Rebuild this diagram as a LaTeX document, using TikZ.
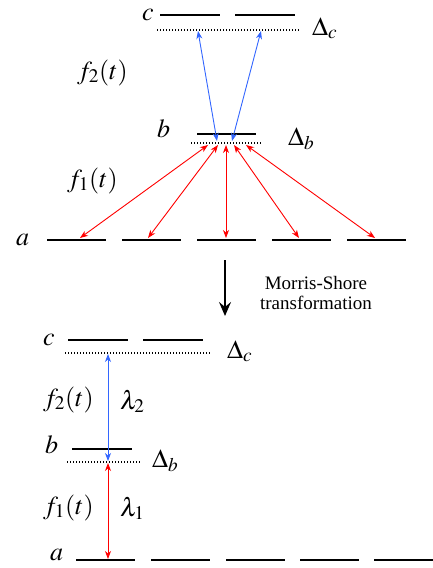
\documentclass[tikz,border=0pt]{standalone}
\usepackage{mathptmx}
\usepackage[no-math]{fontspec}
\setmainfont{Liberation Serif}
\usetikzlibrary{arrows.meta}
\definecolor{bl}{RGB}{51,102,255}
\begin{document}
\begin{tikzpicture}[x=1pt,y=-1pt,
  lev/.style={line width=2pt},
  det/.style={dash pattern=on 1.4pt off 1.6pt,line width=1.6pt},
  lbl/.style={inner sep=0pt,anchor=base west,font=\fontsize{26}{30}\selectfont},
  tr/.style={line width=0.9pt,{Stealth[length=8pt,width=6pt,inset=2.5pt]}-{Stealth[length=8pt,width=6pt,inset=2.5pt]}},
  pa/.style={tr,red},
  pb/.style={tr,bl}]
  \useasboundingbox (0,0) rectangle (433,568);
  % upper scheme
  \draw[lev] (160,15) -- (220,15);
  \draw[lev] (235,15) -- (295,15);
  \draw[det] (157,30) -- (299,30);
  \draw[lev] (197,133.5) -- (256,133.5);
  \draw[det] (191,143) -- (262,143);
  \foreach \x in {47,122,197,272,347}
    \draw[lev] (\x,240) -- +(59,0);
  \node[lbl] (c1) at (142,20) {$c$};
  \node[lbl] (dc1) at (312,35) {$\Delta_c$};
  \node[lbl] (b1) at (157,137) {$b$};
  \node[lbl] (db1) at (288,145) {$\Delta_b$};
  \node[lbl] (f21) at (77,79) {$f_2(t)$};
  \node[lbl] (f11) at (67,187) {$f_1(t)$};
  \node[lbl] (a1) at (16,245) {$a$};
  \coordinate (p1) at (198,31);
  \coordinate (p2) at (261,31);
  \coordinate (q1) at (217,141);
  \coordinate (q2) at (232,141);
  \draw[pb] (p1) -- (q1);
  \draw[pb] (p2) -- (q2);
  \foreach \x/\y [count=\i] in {208/80,218/148,226/226,234/299,246/375} {
    \coordinate (u\i) at (\x,145);
    \coordinate (v\i) at (\y,238);
    \draw[pa] (u\i) -- (v\i);
  }
  % transformation
  \coordinate (d1) at (225,260);
  \coordinate (d2) at (225,316);
  \draw[line width=1.8pt,-{Stealth[length=14pt,width=12pt,inset=5pt]}] (d1) -- (d2);
  \node[inner sep=0pt,align=center,font=\rmfamily\fontsize{19}{20}\selectfont] (ms) at (316,293)
    {Morris-Shore\\transformation};
  % lower scheme
  \draw[lev] (68,340) -- (128,340);
  \draw[lev] (143,340) -- (203,340);
  \draw[det] (65,353) -- (210,353);
  \draw[lev] (72,449) -- (132,449);
  \draw[det] (67,462) -- (140,462);
  \foreach \x in {76,151,226,300,374}
    \draw[lev] (\x,560) -- +(59,0);
  \node[lbl] (c2) at (43,345) {$c$};
  \node[lbl] (dc2) at (227,358) {$\Delta_c$};
  \node[lbl] (b2) at (45,453) {$b$};
  \node[lbl] (db2) at (152,467) {$\Delta_b$};
  \node[lbl] (f22) at (43,406) {$f_2(t)$};
  \node[lbl] (l2) at (120,409) {$\lambda_2$};
  \node[lbl] (f12) at (43,514) {$f_1(t)$};
  \node[lbl] (l1) at (120,516) {$\lambda_1$};
  \node[lbl] (a2) at (50,560) {$a$};
  \coordinate (r1) at (108,354);
  \coordinate (r2) at (108,461);
  \coordinate (s1) at (108,463);
  \coordinate (s2) at (108,559);
  \draw[pb] (r1) -- (r2);
  \draw[pa] (s1) -- (s2);
\end{tikzpicture}
\end{document}
